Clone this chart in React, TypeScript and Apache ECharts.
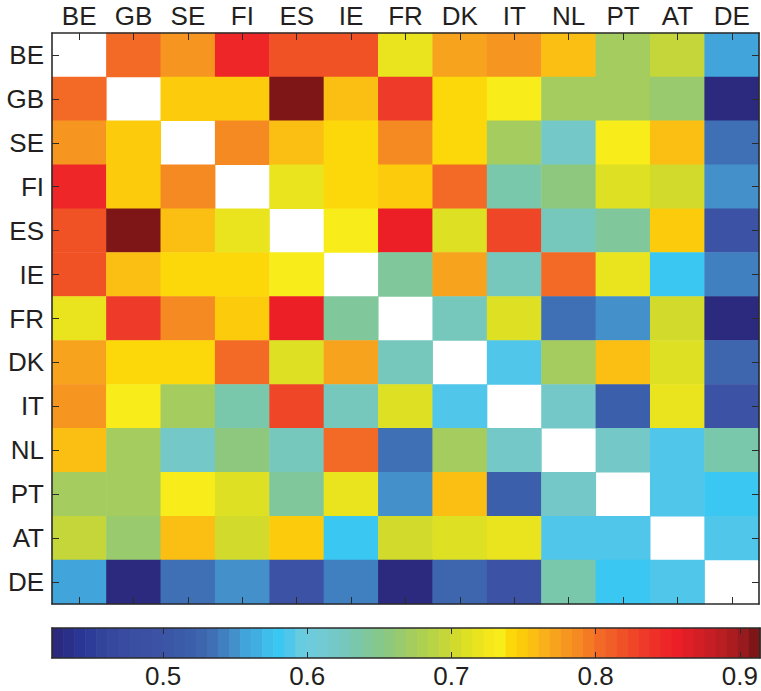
import React, { useEffect, useRef } from "react";
import * as echarts from "echarts";

const countries = ["BE", "GB", "SE", "FI", "ES", "IE", "FR", "DK", "IT", "NL", "PT", "AT", "DE"];

const BE = [null, 0.800, 0.780, 0.848, 0.818, 0.818, 0.716, 0.770, 0.782, 0.756, 0.675, 0.695, 0.558];
const GB = [0.800, null, 0.748, 0.748, 0.910, 0.756, 0.834, 0.738, 0.731, 0.672, 0.672, 0.664, 0.427];
const SE = [0.780, 0.748, null, 0.790, 0.756, 0.738, 0.790, 0.738, 0.672, 0.620, 0.731, 0.756, 0.538];
const FI = [0.848, 0.748, 0.790, null, 0.716, 0.738, 0.748, 0.800, 0.634, 0.657, 0.711, 0.703, 0.549];
const ES = [0.818, 0.910, 0.756, 0.716, null, 0.731, 0.857, 0.711, 0.826, 0.626, 0.642, 0.748, 0.497];
const IE = [0.818, 0.756, 0.738, 0.738, 0.731, null, 0.642, 0.770, 0.626, 0.800, 0.716, 0.580, 0.541];
const FR = [0.716, 0.834, 0.790, 0.748, 0.857, 0.642, null, 0.626, 0.711, 0.534, 0.549, 0.703, 0.427];
const DK = [0.770, 0.738, 0.738, 0.800, 0.711, 0.770, 0.626, null, 0.588, 0.675, 0.756, 0.711, 0.526];
const IT = [0.782, 0.731, 0.672, 0.634, 0.826, 0.626, 0.711, 0.588, null, 0.620, 0.519, 0.716, 0.497];
const NL = [0.756, 0.672, 0.620, 0.657, 0.626, 0.800, 0.534, 0.675, 0.620, null, 0.620, 0.588, 0.634];
const PT = [0.675, 0.672, 0.731, 0.711, 0.642, 0.716, 0.549, 0.756, 0.519, 0.620, null, 0.588, 0.580];
const AT = [0.695, 0.664, 0.756, 0.703, 0.748, 0.580, 0.703, 0.711, 0.716, 0.588, 0.588, null, 0.588];
const DE = [0.558, 0.427, 0.538, 0.549, 0.497, 0.541, 0.427, 0.526, 0.497, 0.634, 0.580, 0.588, null];

const matrix = [BE, GB, SE, FI, ES, IE, FR, DK, IT, NL, PT, AT, DE];

const colorMin = 0.423;
const colorMax = 0.914;
const colorbarTicks = [0.5, 0.6, 0.7, 0.8, 0.9];

const colormap = [
  "#2b2a7e", "#2a2f8a", "#2a3594", "#2d3c98", "#32439c", "#36479e", "#394ba0", "#3a4ea2",
  "#3b50a3", "#3c52a4", "#3b56a5", "#3b5aa8", "#3c5fab", "#3d66af", "#3f70b6", "#4080c0",
  "#4390cb", "#41a4db", "#40aee0", "#3ebeea", "#3ac8f2", "#4fc6ea", "#68cce0", "#6ecbdc",
  "#72cad2", "#74c9c8", "#76c8bc", "#7ac8ac", "#80c89c", "#86c88c", "#8ec87e", "#9aca6e",
  "#a4cc5e", "#aed050", "#b8d444", "#c4d63a", "#d2da2c", "#dee024", "#eae41e", "#f4e81a",
  "#f8ec1a", "#fcd80a", "#fccc0c", "#fbbf14", "#f9b01a", "#f7a31e", "#f69620", "#f58a22",
  "#f47a24", "#f36a26", "#f15e26", "#f05226", "#ee4626", "#ee3a28", "#ee3028", "#ee2628",
  "#ec1e26", "#e01e26", "#d41e26", "#c61e24", "#b81e22", "#aa1c20", "#961a1e", "#7e1618",
];

const FONT = "'Liberation Sans', Arial, Helvetica, sans-serif";
const AXIS_COLOR = "#2b2b2b";
const TEXT_COLOR = "#231f20";

export default function App() {
  const ref = useRef<HTMLDivElement>(null);

  useEffect(() => {
    if (!ref.current) return;
    const chart = echarts.init(ref.current, undefined, { renderer: "svg" });

    const n = colormap.length;
    const step = (colorMax - colorMin) / n;
    const bins = colormap.map((_, i) => [colorMin + i * step, colorMin + (i + 1) * step, i]);
    const pieces = bins.map((b, i) =>
      i === n - 1
        ? { gte: b[0], lte: b[1] + 1, color: colormap[i] }
        : { gte: i === 0 ? b[0] - 1 : b[0], lt: b[1], color: colormap[i] }
    );

    const heatData: any[] = [];
    matrix.forEach((row, r) => {
      row.forEach((v, c) => {
        if (v !== null) heatData.push([c, r, v]);
      });
    });

    const tickStyle = { color: AXIS_COLOR, width: 1 };
    const lineStyle = { color: AXIS_COLOR, width: 1.6 };
    const labelStyle = { fontSize: 26, color: TEXT_COLOR, fontFamily: FONT };

    const option: any = {
      animation: false,
      backgroundColor: "#ffffff",
      grid: [
        { left: 52, top: 33, width: 707, height: 571, outerBoundsMode: "none" },
        { left: 52, top: 628, width: 708, height: 30, outerBoundsMode: "none" },
      ],
      xAxis: [
        {
          type: "category",
          gridIndex: 0,
          data: countries,
          position: "top",
          z: 10,
          axisLine: { show: true, lineStyle },
          axisTick: { show: true, inside: true, length: 7, alignWithLabel: true, lineStyle: tickStyle },
          axisLabel: { ...labelStyle, margin: 4, interval: 0 },
          splitLine: { show: false },
        },
        {
          type: "category",
          gridIndex: 0,
          data: countries,
          position: "bottom",
          z: 10,
          axisLine: { show: true, lineStyle },
          axisTick: { show: true, inside: true, length: 7, alignWithLabel: true, lineStyle: tickStyle },
          axisLabel: { show: false },
          splitLine: { show: false },
        },
        {
          type: "value",
          gridIndex: 1,
          min: colorMin,
          max: colorMax,
          position: "bottom",
          z: 10,
          axisLine: { show: true, onZero: false, lineStyle },
          axisTick: { show: true, inside: true, length: 6, customValues: colorbarTicks, lineStyle: tickStyle },
          axisLabel: { ...labelStyle, margin: 5, customValues: colorbarTicks },
          splitLine: { show: false },
        },
        {
          type: "value",
          gridIndex: 1,
          min: colorMin,
          max: colorMax,
          position: "top",
          z: 10,
          axisLine: { show: true, onZero: false, lineStyle },
          axisTick: { show: true, inside: true, length: 6, customValues: colorbarTicks, lineStyle: tickStyle },
          axisLabel: { show: false },
          splitLine: { show: false },
        },
      ],
      yAxis: [
        {
          type: "category",
          gridIndex: 0,
          data: countries,
          inverse: true,
          position: "left",
          z: 10,
          axisLine: { show: true, lineStyle },
          axisTick: { show: true, inside: true, length: 7, alignWithLabel: true, lineStyle: tickStyle },
          axisLabel: { ...labelStyle, margin: 8, interval: 0 },
          splitLine: { show: false },
        },
        {
          type: "category",
          gridIndex: 0,
          data: countries,
          inverse: true,
          position: "right",
          z: 10,
          axisLine: { show: true, lineStyle },
          axisTick: { show: true, inside: true, length: 7, alignWithLabel: true, lineStyle: tickStyle },
          axisLabel: { show: false },
          splitLine: { show: false },
        },
        {
          type: "value",
          gridIndex: 1,
          min: 0,
          max: 1,
          position: "left",
          z: 10,
          axisLine: { show: true, onZero: false, lineStyle },
          axisTick: { show: false },
          axisLabel: { show: false },
          splitLine: { show: false },
        },
        {
          type: "value",
          gridIndex: 1,
          min: 0,
          max: 1,
          position: "right",
          z: 10,
          axisLine: { show: true, onZero: false, lineStyle },
          axisTick: { show: false },
          axisLabel: { show: false },
          splitLine: { show: false },
        },
      ],
      visualMap: {
        type: "piecewise",
        show: false,
        seriesIndex: 0,
        dimension: 2,
        pieces,
      },
      series: [
        {
          type: "heatmap",
          xAxisIndex: 0,
          yAxisIndex: 0,
          data: heatData,
          itemStyle: { borderWidth: 0 },
          emphasis: { disabled: true },
        },
        {
          type: "custom",
          xAxisIndex: 2,
          yAxisIndex: 2,
          data: bins,
          encode: { x: [0, 1] },
          silent: true,
          renderItem: (params: any, api: any) => {
            const lo = api.value(0);
            const hi = api.value(1);
            const idx = api.value(2);
            const p0 = api.coord([lo, 1]);
            const p1 = api.coord([hi, 0]);
            return {
              type: "rect",
              shape: { x: p0[0], y: p0[1], width: p1[0] - p0[0] + 0.6, height: p1[1] - p0[1] },
              style: { fill: colormap[idx] },
            };
          },
        },
      ],
    };

    chart.setOption(option);
    return () => chart.dispose();
  }, []);

  return (
    <div
      ref={ref}
      style={{ position: "fixed", left: 0, top: 0, width: 761, height: 691, background: "#fff" }}
    />
  );
}
